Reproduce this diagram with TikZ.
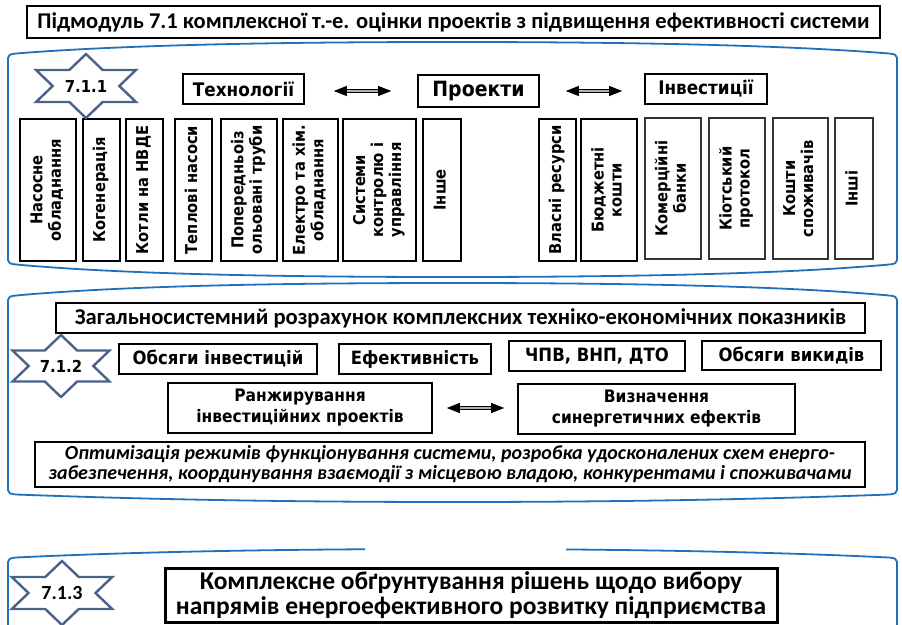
\documentclass[tikz,border=0pt]{standalone}
\usepackage{fontspec}
\setmainfont{Carlito}
\newfontfamily\tahfont[FakeStretch=0.9]{DejaVu Sans}
\newfontfamily\calfont{Carlito}
\usepackage{graphicx}
\usetikzlibrary{arrows.meta}

\definecolor{panelblue}{RGB}{31,112,190}
\definecolor{starblue}{RGB}{74,98,138}
\definecolor{shaftgray}{RGB}{175,175,175}

\newcommand\fsz[2]{\fontsize{#1}{#2}\selectfont}
% rectangle node given by its corners: name, x1, y1, x2, y2, style, text
\newcommand\rectnode[7]{\node[#6,minimum width={#4-#2},minimum height={#5-#3}] (#1) at ({(#2+#4)/2},{(#3+#5)/2}) {#7};}
% text turned to read upwards
\newcommand\rottext[1]{\rotatebox{90}{\begin{tabular}{@{}c@{}}#1\end{tabular}}}
% rounded panel with bulging top and bottom: top corner y, top middle y, bottom corner y, bottom middle y
\newcommand\panel[4]{%
  \draw[panel] (8,#1) .. controls (8,#1-3) and (10,#1-4) .. (16,#1-4.5)
    .. controls (110,#2+4) and (250,#2) .. (452.5,#2)
    .. controls (655,#2) and (795,#2+4) .. (889,#1-4.5)
    .. controls (895,#1-4) and (897,#1-3) .. (897,#1)
    -- (897,#3)
    .. controls (897,#3+3) and (895,#3+4) .. (889,#3+4.5)
    .. controls (795,#4-4) and (655,#4) .. (452.5,#4)
    .. controls (250,#4) and (110,#4-4) .. (16,#3+4.5)
    .. controls (10,#3+4) and (8,#3+3) .. (8,#3) -- cycle;}
% six-pointed star: centre x, centre y, x radius, y radius
\newcommand\hexstar[4]{%
  \draw[starline] (#1,#2-#4)
    \foreach \a/\r in {60/0.57735,30/1,0/0.57735,-30/1,-60/0.57735,-90/1,-120/0.57735,-150/1,180/0.57735,150/1,120/0.57735}
      { -- ({#1+\r*#3*cos(\a)},{#2-\r*#4*sin(\a)}) } -- cycle;}

\begin{document}
\begin{tikzpicture}[x=1pt,y=-1pt,
  panel/.style={draw=panelblue,line width=1.8pt},
  starline/.style={draw=starblue,line width=2.4pt,fill=white,line join=miter},
  box/.style={draw,line width=1.6pt,fill=white,inner sep=0pt,align=center,font=\tahfont\bfseries\fsz{18.3}{21}},
  twoline/.style={box,font=\tahfont\bfseries\fsz{17.2}{21}},
  vbox/.style={box,font=\tahfont\bfseries\fsz{16.3}{18}},
  gbox/.style={vbox,draw=black!80,line width=1.3pt},
  headbox/.style={box,line width=2.6pt,font=\calfont\bfseries\fsz{22.5}{24}},
  startext/.style={inner sep=0pt,font=\tahfont\bfseries\fsz{16.5}{18}},
  dblarrow/.style={double=shaftgray,double distance=2.4pt,line width=1.1pt,
    arrows={Triangle[length=13pt,width=10pt]-Triangle[length=13pt,width=10pt]}}
]
\useasboundingbox (0,0) rectangle (902,624);
\clip (0,0) rectangle (902,624);
\fill[white] (0,0) rectangle (902,624);

% heading
\rectnode{title}{27}{6}{880}{38}{headbox}{Підмодуль 7.1 комплексної т.-е. оцінки проектів з підвищення ефективності системи}

% ---- module 7.1.1
\panel{58}{42}{260}{277}
\rectnode{tech}{183}{74}{304}{104}{box,font=\tahfont\bfseries\fsz{18.7}{20}}{Технології}
\rectnode{proj}{418}{75}{539}{107}{box,font=\tahfont\bfseries\fsz{21}{22}}{Проекти}
\rectnode{inv}{645}{74}{767}{104}{box,font=\tahfont\bfseries\fsz{18.7}{20}}{Інвестиції}
\draw[dblarrow,shorten <=29pt,shorten >=26pt] (proj.west -| tech.east) -- (proj.west);
\draw[dblarrow,shorten <=26pt,shorten >=22pt] (proj.east) -- (proj.east -| inv.west);

\rectnode{t1}{20}{119}{76}{261}{vbox}{\rottext{Насосне\\обладнання}}
\rectnode{t2}{83}{119}{120}{261}{vbox}{\rottext{Когенерація}}
\rectnode{t3}{126}{119}{163}{261}{vbox}{\rottext{Котли на НВДЕ}}
\rectnode{t4}{175}{119}{212}{261}{vbox}{\rottext{Теплові насоси}}
\rectnode{t5}{221}{119}{277}{261}{vbox}{\rottext{Попередньоіз\\ольовані труби}}
\rectnode{t6}{283}{119}{338}{261}{vbox}{\rottext{Електро та хім.\\обладнання}}
\rectnode{t7}{343}{119}{416}{261}{vbox}{\rottext{Системи\\контролю і\\управління}}
\rectnode{t8}{423}{119}{461}{261}{vbox}{\rottext{Інше}}
\rectnode{i1}{539}{119}{576}{261}{vbox}{\rottext{Власні ресурси}}
\rectnode{i2}{581}{119}{637}{261}{vbox}{\rottext{Бюджетні\\кошти}}
\rectnode{i3}{645}{118}{701}{259}{gbox}{\rottext{Комерційні\\банки}}
\rectnode{i4}{709}{118}{765}{259}{gbox}{\rottext{Кіотський\\протокол}}
\rectnode{i5}{773}{118}{828}{259}{gbox}{\rottext{Кошти\\споживачів}}
\rectnode{i6}{835}{118}{873}{259}{gbox}{\rottext{Інші}}

\hexstar{86}{86}{57.7}{32}
\node[startext] (s1) at (86,86) {7.1.1};

% ---- module 7.1.2
\panel{300}{283}{490}{502}
\rectnode{gen}{56}{303}{865}{333}{box,line width=2.4pt,font=\calfont\bfseries\fsz{22.6}{24}}{Загальносистемний розрахунок комплексних техніко-економічних показників}
\rectnode{vol}{119}{344}{317}{374}{box}{Обсяги інвестицій}
\rectnode{eff}{339}{344}{491}{374}{box}{Ефективність}
\rectnode{npv}{509}{341}{685}{371}{box}{ЧПВ, ВНП, ДТО}
\rectnode{emis}{702}{341}{881}{370}{box}{Обсяги викидів}
\rectnode{rank}{168}{383}{432}{433}{twoline}{Ранжирування\\інвестиційних проектів}
\rectnode{syn}{518}{384}{795}{434}{twoline}{Визначення\\синергетичних ефектів}
\draw[dblarrow,shorten <=14pt,shorten >=13pt] (rank.east) -- (rank.east -| syn.west);
\rectnode{opt}{35}{442}{865}{487}{box,font=\calfont\bfseries\itshape\fsz{20}{20}}{\makebox[770pt][s]{Оптимізація режимів функціонування системи, розробка удосконалених схем енерго-}\\\makebox[803pt][s]{забезпечення, координування взаємодії з місцевою владою, конкурентами і споживачами}}

\hexstar{61}{366}{56}{31}
\node[startext] (s2) at (61,366) {7.1.2};

% ---- module 7.1.3 (top edge open in the middle)
\begin{scope}
  \clip (0,500) rectangle (365,640);
  \panel{562}{549}{700}{712}
\end{scope}
\begin{scope}
  \clip (566,500) rectangle (902,640);
  \panel{562}{549}{700}{712}
\end{scope}
\hexstar{62}{593}{58}{32}
\node[startext,font=\calfont\bfseries\fsz{20}{22}] (s3) at (62,593) {7.1.3};
\rectnode{concl}{165}{568}{777}{622}{box,line width=3pt,font=\calfont\bfseries\fsz{25.5}{25}}{Комплексне обґрунтування рішень щодо вибору\\напрямів енергоефективного розвитку підприємства}
\end{tikzpicture}
\end{document}
